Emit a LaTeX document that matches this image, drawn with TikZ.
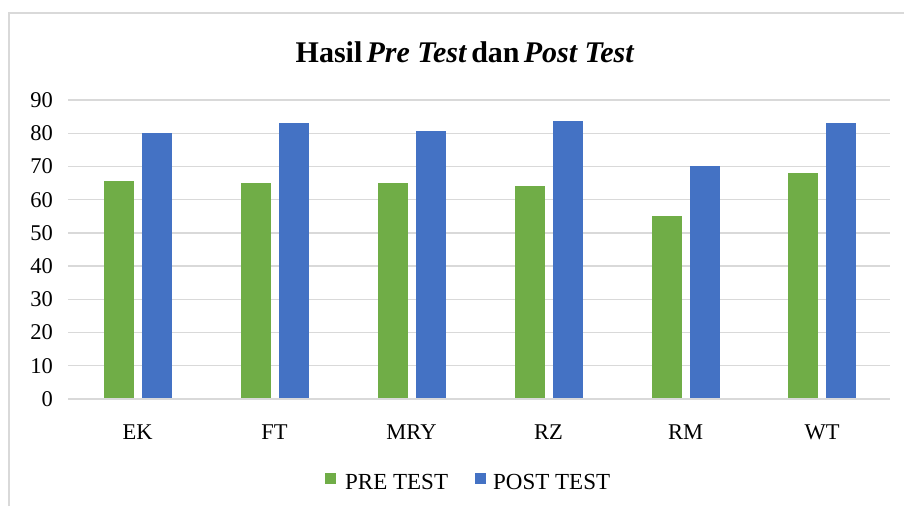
\documentclass[tikz,border=0pt]{standalone}
\usepackage{fontspec}
\setmainfont{Liberation Serif}
\definecolor{pregreen}{HTML}{70AD47}
\definecolor{postblue}{HTML}{4472C4}
\definecolor{gridgray}{HTML}{D9D9D9}
\begin{document}
\begin{tikzpicture}[x=1pt,y=-1pt,
  grid line/.style={draw=gridgray,line width=1.3pt},
  frame line/.style={draw=gridgray,line width=1.3pt},
  ylab/.style={anchor=east,inner sep=0pt,font=\fontsize{22.5}{24}\selectfont},
  catlab/.style={anchor=center,inner sep=0pt,font=\fontsize{22.5}{24}\selectfont},
  legtext/.style={anchor=base west,inner sep=0pt,font=\fontsize{23}{25}\selectfont},
  prebar/.style={fill=pregreen,draw=none},
  postbar/.style={fill=postblue,draw=none}]
\useasboundingbox (0,0) rectangle (904,506);
\fill[white] (0,0) rectangle (904,506);
% frame (cropped on right and bottom)
\draw[frame line] (9,506) -- (9,13) -- (904,13);
% title
\node[inner sep=0pt,anchor=base,font=\fontsize{30}{32}\selectfont\bfseries] (title) at (465,62)
  {Hasil\hspace{0.14em}\textit{Pre Test}\hspace{0.14em}dan\hspace{0.14em}\textit{Post Test}};
% gridlines and y labels
\foreach \v in {0,10,...,90}{
  \pgfmathsetmacro{\yy}{399-\v*3.322}
  \draw[grid line] (68,\yy) -- (890,\yy);
  \node[ylab] (y\v) at (53,\yy) {\v};
}
% bars
\foreach \c/\name/\pre/\post [count=\i] in {137.5/EK/65.7/80,274.5/FT/65/83,411.5/MRY/65/80.7,548.5/RZ/64/83.7,685.5/RM/55/70,822/WT/68/83}{
  \pgfmathsetmacro{\pt}{399-\pre*3.322}
  \pgfmathsetmacro{\qt}{399-\post*3.322}
  \fill[prebar] (\c-34,399) rectangle (\c-4,\pt);
  \fill[postbar] (\c+4,399) rectangle (\c+34,\qt);
  \node[catlab] (cat\i) at (\c,432) {\name};
}
\draw[grid line] (68,399) -- (890,399);
% legend
\fill[pregreen] (325,473) rectangle (336,484);
\node[legtext] (legpre) at (345,489) {PRE TEST};
\fill[postblue] (475,473) rectangle (486,484);
\node[legtext] (legpost) at (493,489) {POST TEST};
\end{tikzpicture}
\end{document}
